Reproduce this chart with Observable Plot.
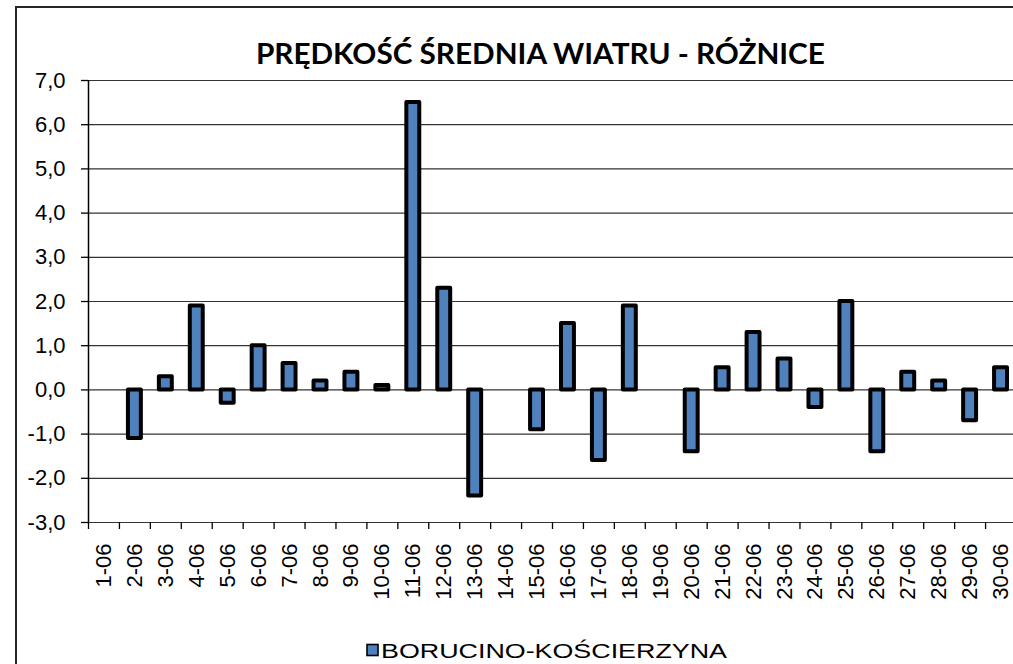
<!DOCTYPE html>
<html><head><meta charset="utf-8">
<script src="https://cdn.jsdelivr.net/npm/d3@7"></script>
<script src="https://cdn.jsdelivr.net/npm/@observablehq/plot@0.6"></script>
<style>
html,body{margin:0;padding:0;background:#fff;overflow:hidden}
#wrap{position:relative;width:1013px;height:664px;overflow:hidden;background:#fff}
#frame{position:absolute;left:15px;top:6px;width:1100px;height:800px;border:2px solid #262626;box-sizing:border-box;z-index:5;pointer-events:none}
#chart{position:absolute;left:0;top:0}
#overlay{position:absolute;left:0;top:0}
</style></head><body>
<div id="wrap"><div id="chart"></div><svg id="overlay" width="1013" height="664"></svg><div id="frame"></div></div>
<script>
const title = "PRĘDKOŚĆ ŚREDNIA WIATRU - RÓŻNICE";
const seriesName = "BORUCINO-KOŚCIERZYNA";
const dates = ["1-06","2-06","3-06","4-06","5-06","6-06","7-06","8-06","9-06","10-06",
  "11-06","12-06","13-06","14-06","15-06","16-06","17-06","18-06","19-06","20-06",
  "21-06","22-06","23-06","24-06","25-06","26-06","27-06","28-06","29-06","30-06"];
const values = [null,-1.1,0.3,1.9,-0.3,1.0,0.6,0.2,0.4,0.1,
  6.5,2.3,-2.4,null,-0.9,1.5,-1.6,1.9,null,-1.4,
  0.5,1.3,0.7,-0.4,2.0,-1.4,0.4,0.2,-0.7,0.5];
const yTicks = [-3,-2,-1,0,1,2,3,4,5,6,7];
const barColor = "#4F81BD";

const data = dates.map((d, i) => ({i: i + 1, date: d, value: values[i]})).filter(d => d.value != null);
const centers = dates.map((d, i) => i + 1);
const boundaries = d3.range(0, dates.length + 1).map(i => i + 0.5);
const fmt = d => d.toFixed(1).replace(".", ",");

const chart = Plot.plot({
  width: 1016, height: 664,
  marginLeft: 88, marginRight: 0, marginTop: 80, marginBottom: 142,
  style: "max-width:none;overflow:visible;background:transparent;color:#000;font-family:'Liberation Sans',Arial,sans-serif;font-size:22px;",
  x: {type: "linear", domain: [0.5, dates.length + 0.5]},
  y: {domain: [-3, 7]},
  marks: [
    Plot.ruleY(yTicks, {stroke: "#333", strokeWidth: 1.2}),
    Plot.rect(data, {x1: d => d.i - 0.5, x2: d => d.i + 0.5, y1: 0, y2: "value",
      insetLeft: 9, insetRight: 9, fill: barColor, stroke: "#000", strokeWidth: 4, strokeLinejoin: "round"}),
    Plot.ruleX([0.5], {stroke: "#000", strokeWidth: 1.5}),
    Plot.axisY({ticks: yTicks, label: null, tickSize: 7, tickPadding: 16, tickFormat: fmt, fontSize: 22, strokeWidth: 1.3}),
    Plot.axisX({ticks: boundaries, label: null, tickSize: 7, tickFormat: () => "", strokeWidth: 1.3}),
    Plot.axisX({ticks: centers, label: null, tickSize: 0, tickPadding: 21, tickRotate: -90, tickFormat: i => dates[i - 1], fontSize: 22})
  ]
});
document.getElementById("chart").appendChild(chart);

const ov = d3.select("#overlay");
ov.append("text")
  .attr("x", 540.4).attr("y", 64.3)
  .attr("text-anchor", "middle")
  .attr("textLength", 569).attr("lengthAdjust", "spacingAndGlyphs")
  .attr("font-family", "Lato, 'Open Sans', sans-serif").attr("font-weight", 700).attr("font-size", 29)
  .attr("fill", "#000")
  .text(title);
ov.append("rect")
  .attr("x", 367).attr("y", 644.5).attr("width", 11).attr("height", 11)
  .attr("fill", barColor).attr("stroke", "#000").attr("stroke-width", 1.6);
ov.append("text")
  .attr("x", 381).attr("y", 657.5)
  .attr("textLength", 346).attr("lengthAdjust", "spacingAndGlyphs")
  .attr("font-family", "'Liberation Sans', Arial, sans-serif").attr("font-size", 20)
  .attr("fill", "#000")
  .text(seriesName);
</script>
</body></html>
